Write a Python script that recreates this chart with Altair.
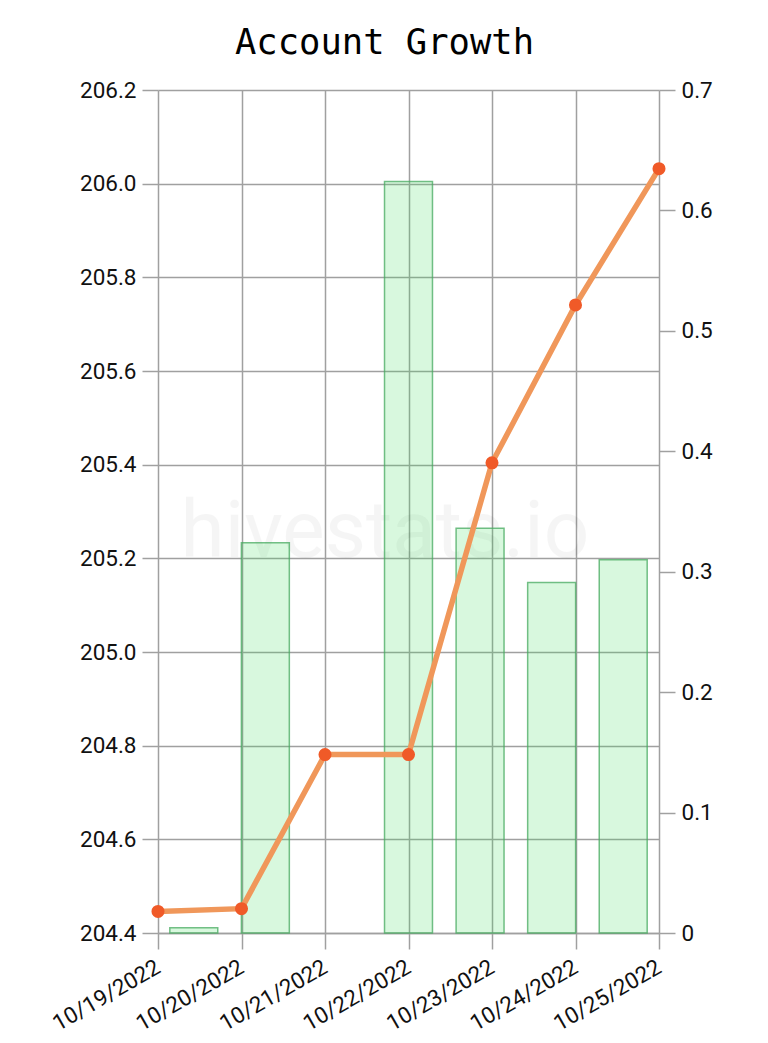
import altair as alt
import pandas as pd

dates = ["10/19/2022", "10/20/2022", "10/21/2022", "10/22/2022",
         "10/23/2022", "10/24/2022", "10/25/2022"]
balance = [204.446, 204.452, 204.781, 204.781, 205.404, 205.741, 206.032]
daily_change = [0.0044, 0.324, None, 0.624, 0.336, 0.291, 0.310]
left_ticks = [204.4, 204.6, 204.8, 205.0, 205.2, 205.4, 205.6, 205.8, 206.0, 206.2]
right_ticks = [0, 0.1, 0.2, 0.3, 0.4, 0.5, 0.6, 0.7]

df = pd.DataFrame({"date": dates, "balance": balance, "change": daily_change})

W, H = 501, 843
GRID = "#a0a0a0"

bars = alt.Chart(df).mark_bar(
    fill="rgb(60,220,90)", fillOpacity=0.2,
    stroke="rgb(70,170,95)", strokeOpacity=0.75, strokeWidth=1.5
).encode(
    x=alt.X("date:O", sort=dates,
            scale=alt.Scale(paddingInner=0.33, paddingOuter=0.165),
            axis=None),
    y=alt.Y("change:Q",
            scale=alt.Scale(domain=[0, 0.7], nice=False, zero=True),
            axis=alt.Axis(orient="right", values=right_ticks, format="~g",
                          grid=False, title=None, domain=False)),
)

x_enc = alt.X("date:O", sort=dates,
              scale=alt.Scale(type="point", padding=0),
              axis=alt.Axis(title=None, labelAngle=330, grid=True,
                            labelAlign="right", labelBaseline="middle",
                            labelPadding=16))
y_enc = alt.Y("balance:Q",
              scale=alt.Scale(domain=[204.4, 206.2], nice=False, zero=False),
              axis=alt.Axis(orient="left", values=left_ticks, format=".1f",
                            grid=True, title=None, domain=False))

line = alt.Chart(df).mark_line(color="#f0975a", strokeWidth=5.5).encode(x=x_enc, y=y_enc)
points = alt.Chart(df).mark_circle(color="#f05a28", size=170, opacity=1).encode(x=x_enc, y=y_enc)
line_layer = alt.layer(line, points)

wm = alt.Chart(pd.DataFrame({"t": ["hivestats.io"]})).mark_text(
    font="Roboto", fontSize=80, color="#000000", opacity=0.035,
    align="center", baseline="alphabetic"
).encode(text="t:N", x=alt.value(227), y=alt.value(467))

chart = alt.layer(wm, bars, line_layer).resolve_scale(
    x="independent", y="independent"
).properties(
    width=W, height=H,
    title=alt.TitleParams("Account Growth", font="DejaVu Sans Mono", fontSize=35.5,
                          fontWeight="normal", color="#000000", anchor="middle",
                          frame="group", dx=-24, offset=18),
    autosize=alt.AutoSizeParams(type="none"),
    padding={"left": 158, "top": 90, "right": 109, "bottom": 110},
).configure_view(stroke=None).configure_axis(
    labelFont="Roboto", labelFontSize=22.5, labelColor="#111111",
    tickColor=GRID, tickSize=16, tickWidth=1.5,
    domainColor=GRID, domainWidth=1.5,
    gridColor=GRID, gridWidth=1.5, labelPadding=6,
)

chart.save("out.html", embed_options={"renderer": "svg", "actions": False})
